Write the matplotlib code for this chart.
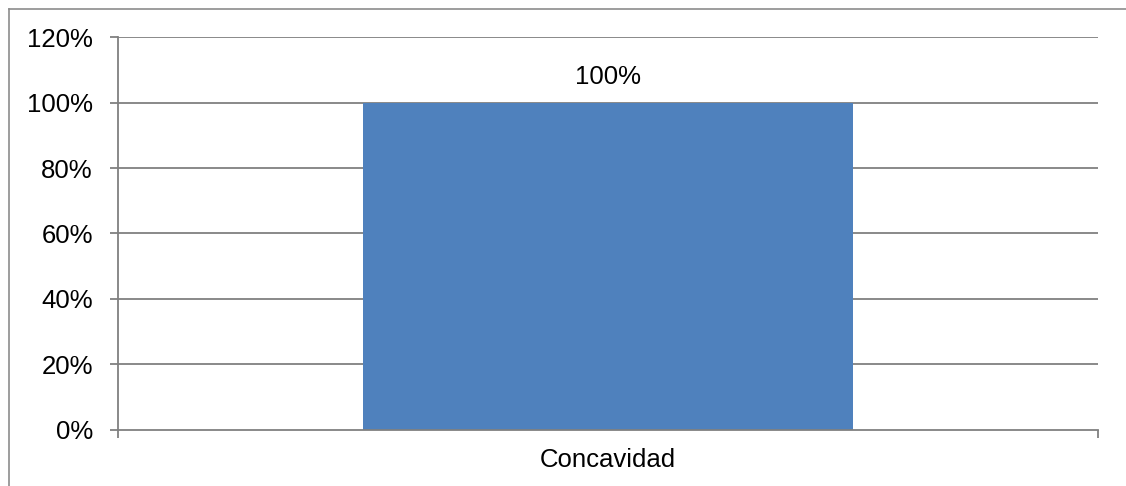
import matplotlib
matplotlib.use("Agg")
import matplotlib.pyplot as plt
from matplotlib.lines import Line2D
from matplotlib.ticker import FuncFormatter

plt.rcParams['font.family'] = ['Liberation Sans', 'DejaVu Sans']

categories = ["Concavidad"]
values = [1.00]
value_labels = ["100%"]
y_ticks = [0.0, 0.2, 0.4, 0.6, 0.8, 1.0, 1.2]

W, H, DPI = 1126, 486, 100
fig = plt.figure(figsize=(W / DPI, H / DPI), dpi=DPI)
fig.patch.set_facecolor("white")

# axes box in pixel units
left, right, top, bottom = 118, 1098, 37.5, 429.5
ax = fig.add_axes([left / W, 1 - bottom / H, (right - left) / W, (bottom - top) / H])

grid_color = "#808080"
bar_color = "#4F81BD"
fs = 18.5

xpos = list(range(len(categories)))
bars = ax.bar(xpos, values, width=1.0, color=bar_color, zorder=3)

ax.set_xlim(-1, 1)
ax.set_ylim(0, 1.2)
ax.set_yticks(y_ticks)
ax.yaxis.set_major_formatter(FuncFormatter(lambda v, _: f"{v * 100:.0f}%"))
for y in y_ticks[1:]:
    ax.axhline(y, color=grid_color, linewidth=1.3, zorder=1)

ax.set_xticks(xpos)
ax.set_xticklabels(categories)
ax.set_xticks([-1, 1], minor=True)
ax.tick_params(axis="x", which="major", length=0, pad=13, labelsize=fs)
ax.tick_params(axis="x", which="minor", length=6, width=1.3, color=grid_color, direction="out")
ax.tick_params(axis="y", length=6, width=1.3, color=grid_color, direction="out", pad=12, labelsize=fs)

for s in ("top", "right"):
    ax.spines[s].set_visible(False)
for s in ("left", "bottom"):
    ax.spines[s].set_color(grid_color)
    ax.spines[s].set_linewidth(1.3)
    ax.spines[s].set_zorder(4)

for rect, lab in zip(bars, value_labels):
    ax.annotate(lab, (rect.get_x() + rect.get_width() / 2, rect.get_height()),
                xytext=(0, 14), textcoords="offset pixels",
                ha="center", va="bottom", fontsize=fs)

# outer chart frame (left and top edges)
fx, fy = 9 / W, 1 - 9 / H
fig.add_artist(Line2D([fx, fx], [0, fy], transform=fig.transFigure, color="#8c8c8c", linewidth=1.2))
fig.add_artist(Line2D([fx, 1], [fy, fy], transform=fig.transFigure, color="#8c8c8c", linewidth=1.2))

fig.savefig("out.png", dpi=DPI)
